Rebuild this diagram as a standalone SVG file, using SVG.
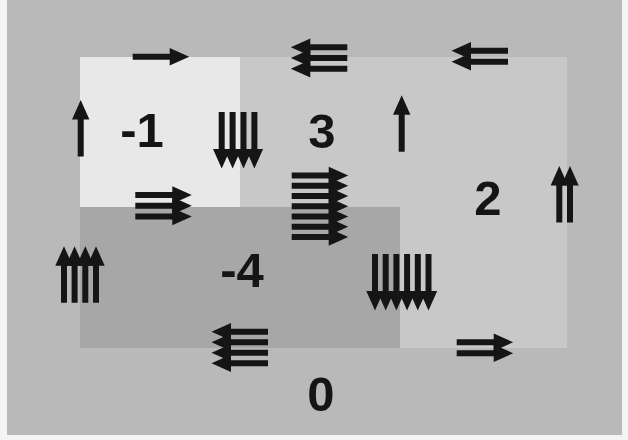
<svg xmlns="http://www.w3.org/2000/svg" xmlns:xlink="http://www.w3.org/1999/xlink" width="628" height="440" viewBox="0 0 628 440">
<style>
.lbl{font-family:"Liberation Sans",Arial,sans-serif;font-weight:bold;font-size:49px;fill:#151515;text-anchor:middle}
.ar{fill:#151515}
</style>
<defs>
<path id="a" class="ar" d="M0,-3H37V-8.7L56.5,0L37,8.7V3H0Z"/>
</defs>
<rect x="0" y="0" width="628" height="440" fill="#f4f4f4"/>
<rect id="bg" x="7" y="0" width="615" height="435" fill="#b9b9b9"/>
<rect id="region-2" x="240" y="57" width="327" height="291" fill="#c8c8c8"/>
<rect id="region-m1" x="80" y="57" width="160" height="150" fill="#e8e8e8"/>
<rect id="region-m4" x="80" y="207" width="320" height="141" fill="#a7a7a7"/>

<g id="labels">
<text id="lbl-m1" class="lbl" x="142" y="147">-1</text>
<text id="lbl-3" class="lbl" x="322" y="148">3</text>
<text id="lbl-2" class="lbl" x="488" y="215">2</text>
<text id="lbl-m4" class="lbl" x="242" y="287">-4</text>
<text id="lbl-0" class="lbl" x="321" y="411">0</text>
</g>

<g id="connectors">
<g id="arr-right-1">
<use xlink:href="#a" href="#a" transform="translate(132.7,56.7)"/>
</g>
<g id="arr-up-1">
<use xlink:href="#a" href="#a" transform="translate(80.7,156.5) rotate(-90)"/>
</g>
<g id="arr-down-4">
<use xlink:href="#a" href="#a" transform="translate(221.7,112) rotate(90)"/>
<use xlink:href="#a" href="#a" transform="translate(232.6,112) rotate(90)"/>
<use xlink:href="#a" href="#a" transform="translate(243.5,112) rotate(90)"/>
<use xlink:href="#a" href="#a" transform="translate(254.4,112) rotate(90)"/>
</g>
<g id="arr-left-3">
<use xlink:href="#a" href="#a" transform="translate(347.3,47.3) rotate(180)"/>
<use xlink:href="#a" href="#a" transform="translate(347.3,58) rotate(180)"/>
<use xlink:href="#a" href="#a" transform="translate(347.3,68.7) rotate(180)"/>
</g>
<g id="arr-right-3">
<use xlink:href="#a" href="#a" transform="translate(135.3,195)"/>
<use xlink:href="#a" href="#a" transform="translate(135.3,205.8)"/>
<use xlink:href="#a" href="#a" transform="translate(135.3,216.6)"/>
</g>
<g id="arr-right-7">
<use xlink:href="#a" href="#a" transform="translate(291.7,175.5)"/>
<use xlink:href="#a" href="#a" transform="translate(291.7,185.75)"/>
<use xlink:href="#a" href="#a" transform="translate(291.7,196)"/>
<use xlink:href="#a" href="#a" transform="translate(291.7,206.25)"/>
<use xlink:href="#a" href="#a" transform="translate(291.7,216.5)"/>
<use xlink:href="#a" href="#a" transform="translate(291.7,226.75)"/>
<use xlink:href="#a" href="#a" transform="translate(291.7,237)"/>
</g>
<g id="arr-up-1b">
<use xlink:href="#a" href="#a" transform="translate(401.7,151.7) rotate(-90)"/>
</g>
<g id="arr-left-2">
<use xlink:href="#a" href="#a" transform="translate(508,50.7) rotate(180)"/>
<use xlink:href="#a" href="#a" transform="translate(508,61.7) rotate(180)"/>
</g>
<g id="arr-up-2">
<use xlink:href="#a" href="#a" transform="translate(559.3,222.5) rotate(-90)"/>
<use xlink:href="#a" href="#a" transform="translate(570,222.5) rotate(-90)"/>
</g>
<g id="arr-up-4">
<use xlink:href="#a" href="#a" transform="translate(64,302.7) rotate(-90)"/>
<use xlink:href="#a" href="#a" transform="translate(74.6,302.7) rotate(-90)"/>
<use xlink:href="#a" href="#a" transform="translate(85.3,302.7) rotate(-90)"/>
<use xlink:href="#a" href="#a" transform="translate(96,302.7) rotate(-90)"/>
</g>
<g id="arr-left-4">
<use xlink:href="#a" href="#a" transform="translate(268,331.7) rotate(180)"/>
<use xlink:href="#a" href="#a" transform="translate(268,342.2) rotate(180)"/>
<use xlink:href="#a" href="#a" transform="translate(268,352.8) rotate(180)"/>
<use xlink:href="#a" href="#a" transform="translate(268,363.3) rotate(180)"/>
</g>
<g id="arr-down-6">
<use xlink:href="#a" href="#a" transform="translate(375,254) rotate(90)"/>
<use xlink:href="#a" href="#a" transform="translate(385.7,254) rotate(90)"/>
<use xlink:href="#a" href="#a" transform="translate(396.4,254) rotate(90)"/>
<use xlink:href="#a" href="#a" transform="translate(407.1,254) rotate(90)"/>
<use xlink:href="#a" href="#a" transform="translate(417.8,254) rotate(90)"/>
<use xlink:href="#a" href="#a" transform="translate(428.5,254) rotate(90)"/>
</g>
<g id="arr-right-2">
<use xlink:href="#a" href="#a" transform="translate(456.7,342.3)"/>
<use xlink:href="#a" href="#a" transform="translate(456.7,353.3)"/>
</g>
</g>
</svg>
